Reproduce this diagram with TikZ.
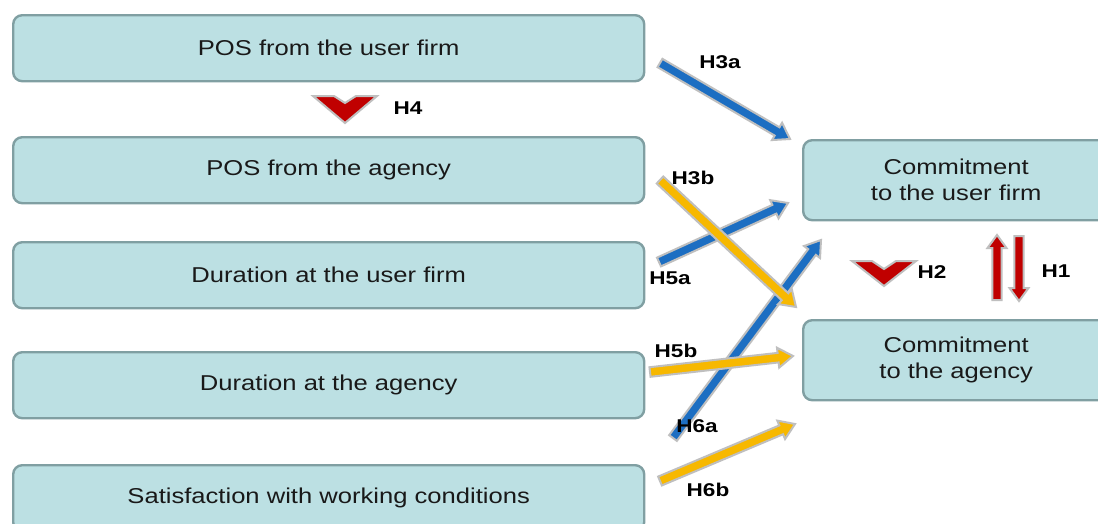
\documentclass[tikz,border=0pt]{standalone}
\usepackage{fontspec}
\setmainfont{Liberation Sans}
\usepackage{graphicx}
\usetikzlibrary{calc}

\definecolor{boxfill}{HTML}{BCE0E3}
\definecolor{boxline}{HTML}{809FA2}
\definecolor{hblue}{HTML}{1C6EC2}
\definecolor{hyellow}{HTML}{F7B800}
\definecolor{hred}{HTML}{C00000}
\definecolor{rim}{HTML}{BFBFBF}

% slightly widened lettering
\newcommand\wide[1]{\scalebox{1.19}[1]{#1}}
\newcommand\widelab[1]{\scalebox{1.22}[1]{#1}}

% fat arrow: #1 fill colour, #2 tail, #3 tip, #4 shaft half-width, #5 head half-width, #6 head length
\newcommand\fatarrow[6]{%
  \coordinate (fa-base) at ($(#3)!#6!(#2)$);
  \draw[arrowrim, fill=#1]
    ($(#2)!#4!90:(#3)$) -- ($(fa-base)!#4!90:(#3)$) -- ($(fa-base)!#5!90:(#3)$)
    -- (#3)
    -- ($(fa-base)!#5!-90:(#3)$) -- ($(fa-base)!#4!-90:(#3)$) -- ($(#2)!#4!-90:(#3)$) -- cycle;
}

\tikzset{
  box/.style={draw=boxline, line width=2.4pt, fill=boxfill, rounded corners=9pt,
    anchor=north west, inner sep=0pt, align=center,
    font=\fontsize{21.5}{26}\selectfont, text=black!90},
  leftbox/.style={box, minimum width=631pt, minimum height=66pt},
  rightbox/.style={box, minimum width=306pt, minimum height=80pt},
  hlabel/.style={font=\fontsize{18.5}{22}\selectfont\bfseries, text=black, inner sep=0pt},
  arrowrim/.style={draw=rim, line width=2pt, line join=miter},
  chevron/.style={draw=rim, line width=2pt, line join=miter, fill=hred},
}

\begin{document}
\begin{tikzpicture}[x=1pt, y=-1pt]
  \useasboundingbox (0,0) rectangle (1098,523);
  \clip (0,0) rectangle (1098,523);
  \fill[white] (0,0) rectangle (1098,523);

  % antecedents
  \node[leftbox] (posuser) at (12,14)  {\wide{POS from the user firm}};
  \node[leftbox] (posagency) at (12,136) {\wide{POS from the agency}};
  \node[leftbox] (duruser) at (12,241) {\wide{Duration at the user firm}};
  \node[leftbox] (duragency) at (12,351) {\wide{Duration at the agency}};
  \node[leftbox] (satisf) at (12,464) {\wide{Satisfaction with working conditions}};

  % outcomes
  \node[rightbox] (comuser) at (802,139) {\wide{Commitment}\\\wide{to the user firm}};
  \node[rightbox] (comagency) at (802,319) {\wide{Commitment}\\\wide{to the agency}};

  % arrow end points
  \coordinate (h3a-s) at (660,63);  \coordinate (h3a-e) at (790,139);
  \coordinate (h3b-s) at (660,180); \coordinate (h3b-e) at (796,307);
  \coordinate (h5a-s) at (659,262); \coordinate (h5a-e) at (788,203);
  \coordinate (h6a-s) at (673,438); \coordinate (h6a-e) at (821,240);
  \coordinate (h5b-s) at (650,372); \coordinate (h5b-e) at (793,356);
  \coordinate (h6b-s) at (660,481); \coordinate (h6b-e) at (795,424);
  \coordinate (h1u-s) at (997,300); \coordinate (h1u-e) at (997,235);
  \coordinate (h1d-s) at (1019,236); \coordinate (h1d-e) at (1019,301);

  % blue paths first, yellow on top
  \fatarrow{hblue}{h3a-s}{h3a-e}{4.8pt}{10pt}{15pt}
  \fatarrow{hblue}{h5a-s}{h5a-e}{4.8pt}{10pt}{15pt}
  \fatarrow{hblue}{h6a-s}{h6a-e}{4.8pt}{10pt}{15pt}
  \fatarrow{hyellow}{h3b-s}{h3b-e}{4.8pt}{10pt}{15pt}
  \fatarrow{hyellow}{h5b-s}{h5b-e}{4.8pt}{10pt}{15pt}
  \fatarrow{hyellow}{h6b-s}{h6b-e}{4.8pt}{10pt}{15pt}

  % reciprocal link between the two commitments
  \fatarrow{hred}{h1u-s}{h1u-e}{4.6pt}{9.5pt}{13pt}
  \fatarrow{hred}{h1d-s}{h1d-e}{4.6pt}{9.5pt}{13pt}

  % moderation chevrons
  \draw[chevron] (313,96) -- (334,96) -- (345,103) -- (356,96) -- (377,96) -- (345,123) -- cycle;
  \draw[chevron] (852,261) -- (872,261) -- (884,269) -- (896,261) -- (916,261) -- (884,286) -- cycle;

  % hypothesis labels
  \node[hlabel] (lh3a) at (720,62)  {\widelab{H3a}};
  \node[hlabel] (lh3b) at (693,178) {\widelab{H3b}};
  \node[hlabel] (lh5a) at (670,278) {\widelab{H5a}};
  \node[hlabel] (lh5b) at (676,351) {\widelab{H5b}};
  \node[hlabel] (lh6a) at (697,426) {\widelab{H6a}};
  \node[hlabel] (lh6b) at (708,490) {\widelab{H6b}};
  \node[hlabel] (lh4)  at (408,108) {\widelab{H4}};
  \node[hlabel] (lh2)  at (932,272) {\widelab{H2}};
  \node[hlabel] (lh1)  at (1056,271) {\widelab{H1}};
\end{tikzpicture}
\end{document}
